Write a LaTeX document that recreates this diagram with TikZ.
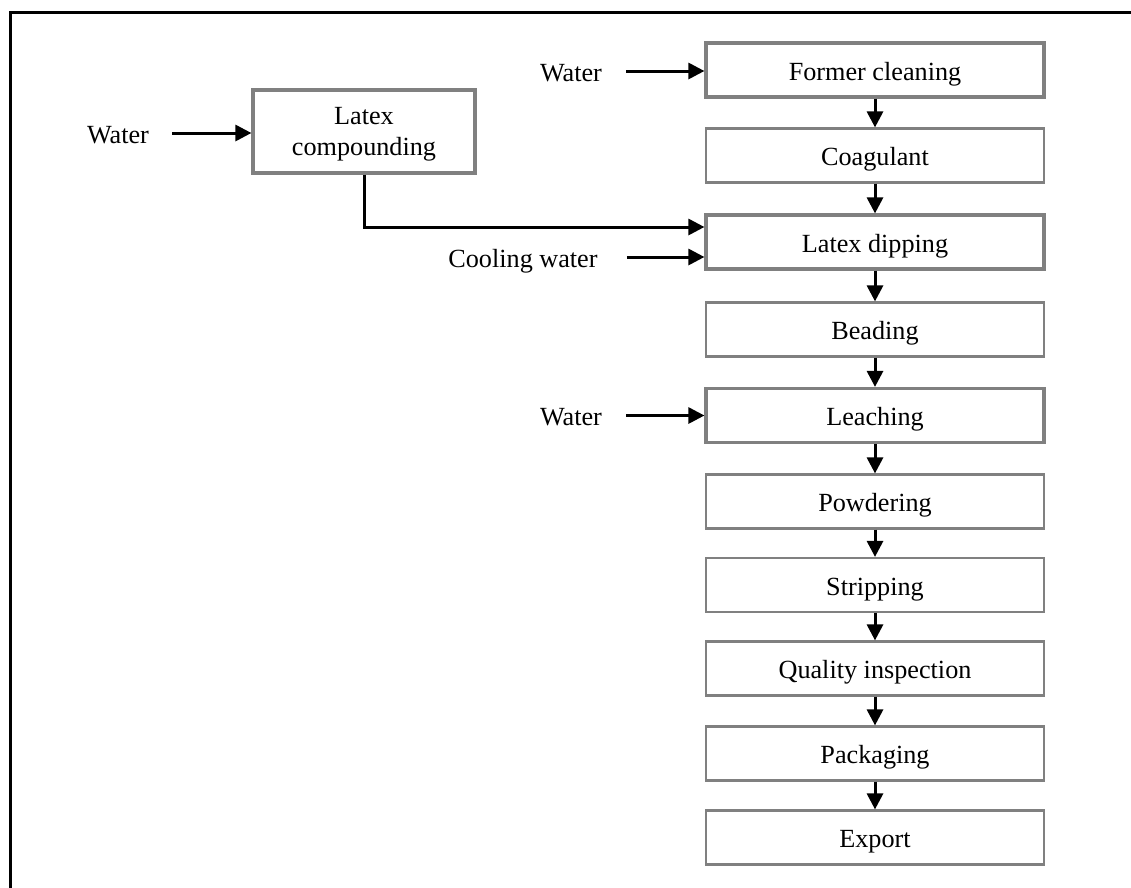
\documentclass[tikz,border=0pt]{standalone}
\usepackage{fontspec}
\setmainfont{Liberation Serif}
\usetikzlibrary{arrows.meta}
\definecolor{boxgray}{RGB}{128,128,128}

\begin{document}
\begin{tikzpicture}[x=1pt, y=-1pt,
  every node/.style={font=\fontsize{26.2}{30}\selectfont},
  stage/.style={draw=boxgray, line width=2.2pt, fill=white,
    minimum width=338pt, minimum height=54pt, inner sep=0pt,
    text height=20pt, text depth=0pt},
  feedstage/.style={stage, line width=3.2pt},
  feed/.style={inner sep=0pt, text height=20pt, text depth=0pt},
  arr/.style={line width=3pt, -{Triangle[length=16pt, width=16pt]}}
]
\useasboundingbox (0,0) rectangle (1131,887);

% outer frame
\draw[line width=3pt] (10,900) -- (10,12) -- (1140,12);

% main process line
\node[feedstage] (former) at (875,70)    {Former cleaning};
\node[stage]     (coag)   at (875,155.5) {Coagulant};
\node[feedstage] (dip)    at (875,242)   {Latex dipping};
\node[stage]     (bead)   at (875,329.5) {Beading};
\node[feedstage] (leach)  at (875,415.5) {Leaching};
\node[stage]     (powder) at (875,501.5) {Powdering};
\node[stage]     (strip)  at (875,585)   {Stripping};
\node[stage]     (qi)     at (875,668.5) {Quality inspection};
\node[stage]     (pack)   at (875,753.5) {Packaging};
\node[stage]     (export) at (875,837.5) {Export};

% compounding
\node[feedstage, minimum width=222pt, minimum height=83pt, align=center,
      text height=, text depth=0pt,
      font=\fontsize{26.2}{31}\selectfont] (comp) at (364,131.5)
      {Latex\\compounding};

% feed labels
\node[feed] (wcomp)  at (118,133) {Water};
\node[feed] (wform)  at (571,71)  {Water};
\node[feed] (cool)   at (523,257) {Cooling water};
\node[feed] (wleach) at (571,415.5) {Water};

% feed arrows
\draw[arr] ([xshift=23pt]wcomp.east) -- (wcomp.east -| comp.west);
\draw[arr] ([xshift=24pt]wform.east) -- (wform.east -| former.west);
\draw[arr] ([xshift=29pt]cool.east) -- ([yshift=-15pt]dip.west);
\draw[arr] ([xshift=24pt]wleach.east) -- (leach.west);
\draw[arr] (comp.south) |- ([yshift=15pt]dip.west);

% stage-to-stage arrows
\foreach \a/\b in {former/coag, coag/dip, dip/bead, bead/leach,
                   leach/powder, powder/strip, strip/qi, qi/pack, pack/export}
  \draw[arr] (\a.south) -- (\b.north);
\end{tikzpicture}
\end{document}
